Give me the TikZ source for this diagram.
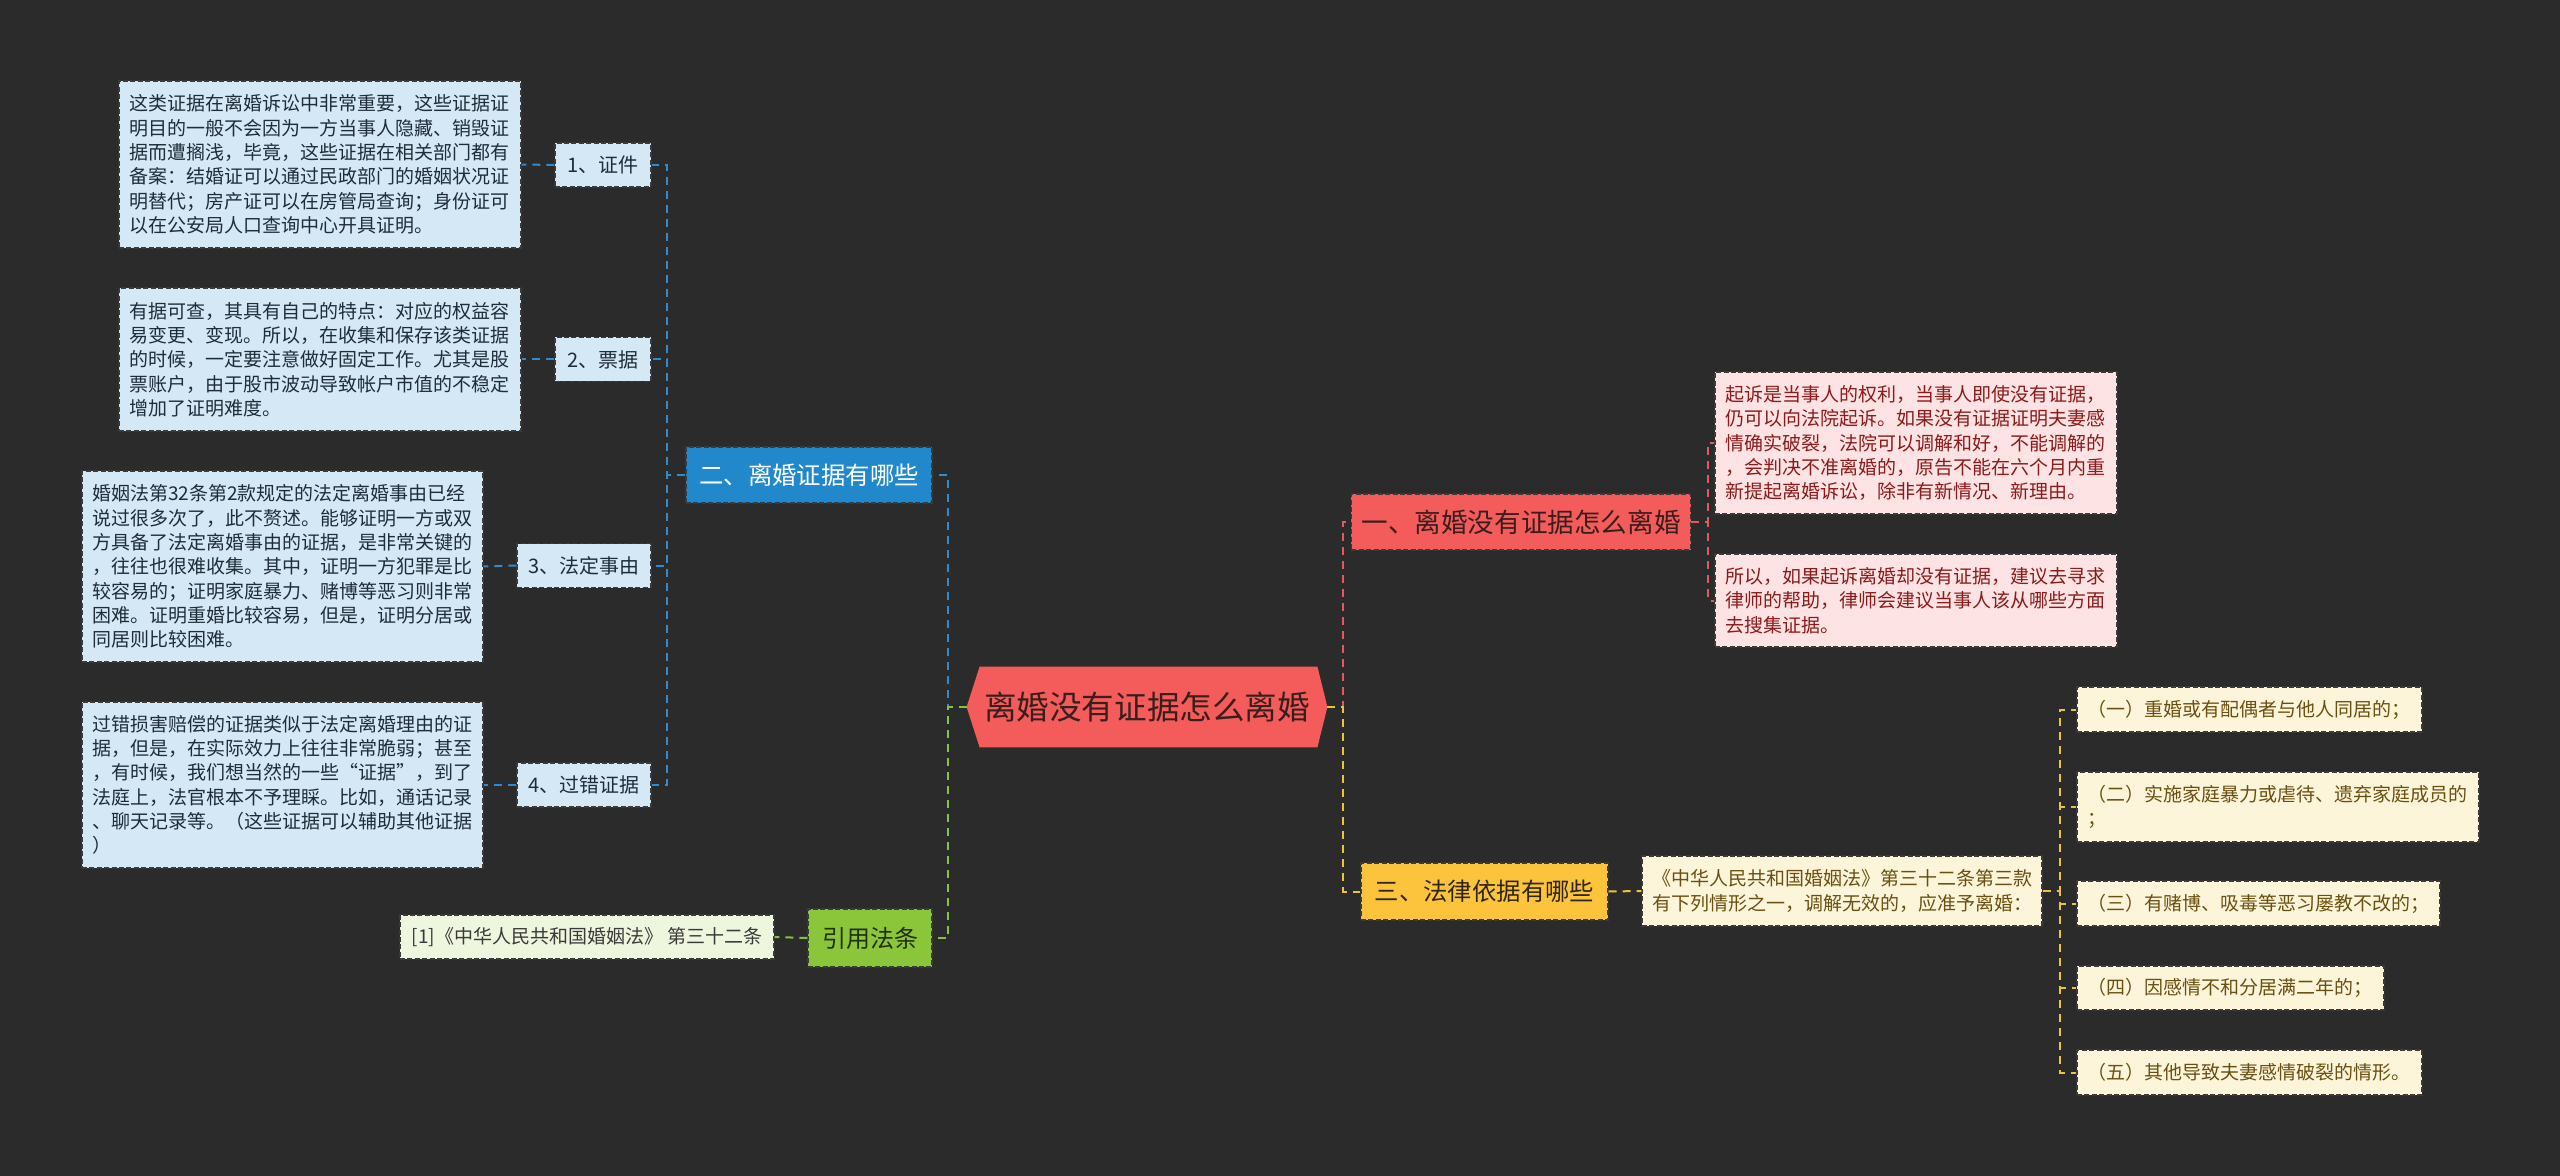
\documentclass[tikz,border=0pt]{standalone}
\usepackage{fontspec}
\setmainfont{Noto Sans CJK SC}
\usetikzlibrary{backgrounds}
\definecolor{bgc}{HTML}{2B2B2B}
\definecolor{bordc}{HTML}{3A3A3A}
\definecolor{lbfill}{HTML}{D5E8F5}
\definecolor{lbtext}{HTML}{1F2D3A}
\definecolor{bluenode}{HTML}{2288CC}
\definecolor{bluecon}{HTML}{2E8BD0}
\definecolor{redfill}{HTML}{F45B5B}
\definecolor{redcon}{HTML}{E25A5C}
\definecolor{redtext}{HTML}{3A1E1E}
\definecolor{pfill}{HTML}{FDE3E3}
\definecolor{ptext}{HTML}{8B1A1A}
\definecolor{yfill}{HTML}{FCC43C}
\definecolor{ycon}{HTML}{F0C23A}
\definecolor{ytext}{HTML}{2E2614}
\definecolor{cfill}{HTML}{FDF5DA}
\definecolor{ctext}{HTML}{6A5010}
\definecolor{gfill}{HTML}{8AC53A}
\definecolor{gcon}{HTML}{86C440}
\definecolor{gtextn}{HTML}{22300E}
\definecolor{gleaf}{HTML}{EEF6DE}
\definecolor{gtext}{HTML}{3A3A3A}
\tikzset{
  box/.style={draw=bordc, dash pattern=on 2.5pt off 1.2pt, line width=0.6pt,
    inner xsep=5pt, inner ysep=0pt, font=\fontsize{9.5pt}{12.15pt}\selectfont},
  leafB/.style={box, fill=lbfill, text=lbtext, align=left},
  leafP/.style={box, fill=pfill, text=ptext, align=left},
  leafC/.style={box, fill=cfill, text=ctext, align=left},
  leafG/.style={box, fill=gleaf, text=gtext, align=center},
  lab/.style={box, fill=lbfill, text=lbtext, font=\fontsize{10pt}{12pt}\selectfont, minimum height=22pt},
  mainB/.style={box, fill=bluenode, text=white, font=\fontsize{12.2pt}{14pt}\selectfont, minimum height=28pt},
  mainR/.style={box, fill=redfill, text=redtext, font=\fontsize{13.3pt}{15pt}\selectfont, minimum height=28pt},
  mainY/.style={box, fill=yfill, text=ytext, font=\fontsize{12.2pt}{14pt}\selectfont, minimum height=28.5pt},
  mainG/.style={box, fill=gfill, text=gtextn, font=\fontsize{12pt}{14pt}\selectfont, minimum height=29pt},
  ctrnode/.style={inner sep=0pt, text=redtext, font=\fontsize{16.3pt}{18pt}\selectfont,
    minimum width=180pt, minimum height=40pt},
  conn/.style={line width=1pt, dash pattern=on 4pt off 3pt},
}
\begin{document}
\begin{tikzpicture}[x=0.5pt,y=-0.5pt]
\path[use as bounding box] (0,0) rectangle (2560,1176);

% center
\node[ctrnode] (ctr) at (1147,707) {离婚没有证据怎么离婚};

% blue branch
\node[mainB, minimum width=123pt] (n2) at (809,475) {二、离婚证据有哪些};
\node[lab, minimum width=48pt] (l1) at (603,165) {1、证件};
\node[lab, minimum width=48pt] (l2) at (603,359.5) {2、票据};
\node[lab, minimum width=67pt] (l3) at (584,565.5) {3、法定事由};
\node[lab, minimum width=67pt] (l4) at (584,785) {4、过错证据};
\node[leafB, text width=191pt, minimum height=83.5pt] (t1) at (320,164.5) {这类证据在离婚诉讼中非常重要，这些证据证\\明目的一般不会因为一方当事人隐藏、销毁证\\据而遭搁浅，毕竟，这些证据在相关部门都有\\备案：结婚证可以通过民政部门的婚姻状况证\\明替代；房产证可以在房管局查询；身份证可\\以在公安局人口查询中心开具证明。};
\node[leafB, text width=191pt, minimum height=71.5pt] (t2) at (320,359.5) {有据可查，其具有自己的特点：对应的权益容\\易变更、变现。所以，在收集和保存该类证据\\的时候，一定要注意做好固定工作。尤其是股\\票账户，由于股市波动导致帐户市值的不稳定\\增加了证明难度。};
\node[leafB, text width=190.5pt, minimum height=95.5pt] (t3) at (282.5,566.5) {婚姻法第32条第2款规定的法定离婚事由已经\\说过很多次了，此不赘述。能够证明一方或双\\方具备了法定离婚事由的证据，是非常关键的\\，往往也很难收集。其中，证明一方犯罪是比\\较容易的；证明家庭暴力、赌博等恶习则非常\\困难。证明重婚比较容易，但是，证明分居或\\同居则比较困难。};
\node[leafB, text width=190.5pt, minimum height=83pt] (t4) at (282.5,785) {过错损害赔偿的证据类似于法定离婚理由的证\\据，但是，在实际效力上往往非常脆弱；甚至\\，有时候，我们想当然的一些“证据”，到了\\法庭上，法官根本不予理睬。比如，通话记录\\、聊天记录等。（这些证据可以辅助其他证据\\）};

% green branch
\node[mainG, minimum width=62pt] (ng) at (870,938) {引用法条};
\node[leafG, minimum width=187pt, minimum height=22pt] (g1) at (587,937) {{}[1]《中华人民共和国婚姻法》 第三十二条};

% red branch
\node[mainR, minimum width=160pt] (n1) at (1521,522) {一、离婚没有证据怎么离婚};
\node[leafP, text width=191pt, minimum height=71pt] (p1) at (1916,443) {起诉是当事人的权利，当事人即使没有证据，\\仍可以向法院起诉。如果没有证据证明夫妻感\\情确实破裂，法院可以调解和好，不能调解的\\，会判决不准离婚的，原告不能在六个月内重\\新提起离婚诉讼，除非有新情况、新理由。};
\node[leafP, text width=191pt, minimum height=46.5pt] (p2) at (1916,600.5) {所以，如果起诉离婚却没有证据，建议去寻求\\律师的帮助，律师会建议当事人该从哪些方面\\去搜集证据。};

% yellow branch
\node[mainY, minimum width=123.5pt] (n3) at (1484.5,891.5) {三、法律依据有哪些};
\node[leafC, text width=190pt, minimum height=35pt] (cr) at (1842,891) {《中华人民共和国婚姻法》第三十二条第三款\\有下列情形之一，调解无效的，应准予离婚：};
\node[leafC, text width=162.5pt, minimum height=22.5pt] (i1) at (2249.5,709.5) {（一）重婚或有配偶者与他人同居的；};
\node[leafC, text width=191pt, minimum height=35pt] (i2) at (2278,807) {（二）实施家庭暴力或虐待、遗弃家庭成员的\\；};
\node[leafC, text width=171.5pt, minimum height=22.5pt] (i3) at (2258.5,903.5) {（三）有赌博、吸毒等恶习屡教不改的；};
\node[leafC, text width=143.5pt, minimum height=22pt] (i4) at (2230.5,988) {（四）因感情不和分居满二年的；};
\node[leafC, text width=162.5pt, minimum height=22.5pt] (i5) at (2249.5,1072.5) {（五）其他导致夫妻感情破裂的情形。};

% background and hexagon
\begin{scope}[on background layer]
\fill[bgc] (0,0) rectangle (2560,1176);
\fill[redfill] (ctr.west) -- ([xshift=6.5pt]ctr.north west) -- ([xshift=-5pt]ctr.north east)
  -- (ctr.east) -- ([xshift=-5pt]ctr.south east) -- ([xshift=6.5pt]ctr.south west) -- cycle;
\end{scope}

% connectors
\draw[conn, bluecon] (ctr.west) -- ++(-19,0) |- (n2.east);
\draw[conn, gcon] (ctr.west) -- ++(-19,0) |- (ng.east);
\draw[conn, redcon] (ctr.east) -- ++(16,0) |- (n1.west);
\draw[conn, ycon] (ctr.east) -- ++(16,0) |- (n3.west);

\foreach \l in {l1,l2,l3,l4}{
  \draw[conn, bluecon] (n2.west) -- ++(-18,0) |- (\l.east);
}
\draw[conn, bluecon] (l1.west) -- (t1.east);
\draw[conn, bluecon] (l2.west) -- (t2.east);
\draw[conn, bluecon] (l3.west) -- (t3.east);
\draw[conn, bluecon] (l4.west) -- (t4.east);

\draw[conn, gcon] (ng.west) -- (g1.east);

\draw[conn, redcon] (n1.east) -- ++(17,0) |- (p1.west);
\draw[conn, redcon] (n1.east) -- ++(17,0) |- (p2.west);

\draw[conn, ycon] (n3.west -| n3.east) -- (cr.west);
\foreach \i in {i1,i2,i3,i4,i5}{
  \draw[conn, ycon] (cr.east) -- ++(17,0) |- (\i.west);
}
\end{tikzpicture}
\end{document}
